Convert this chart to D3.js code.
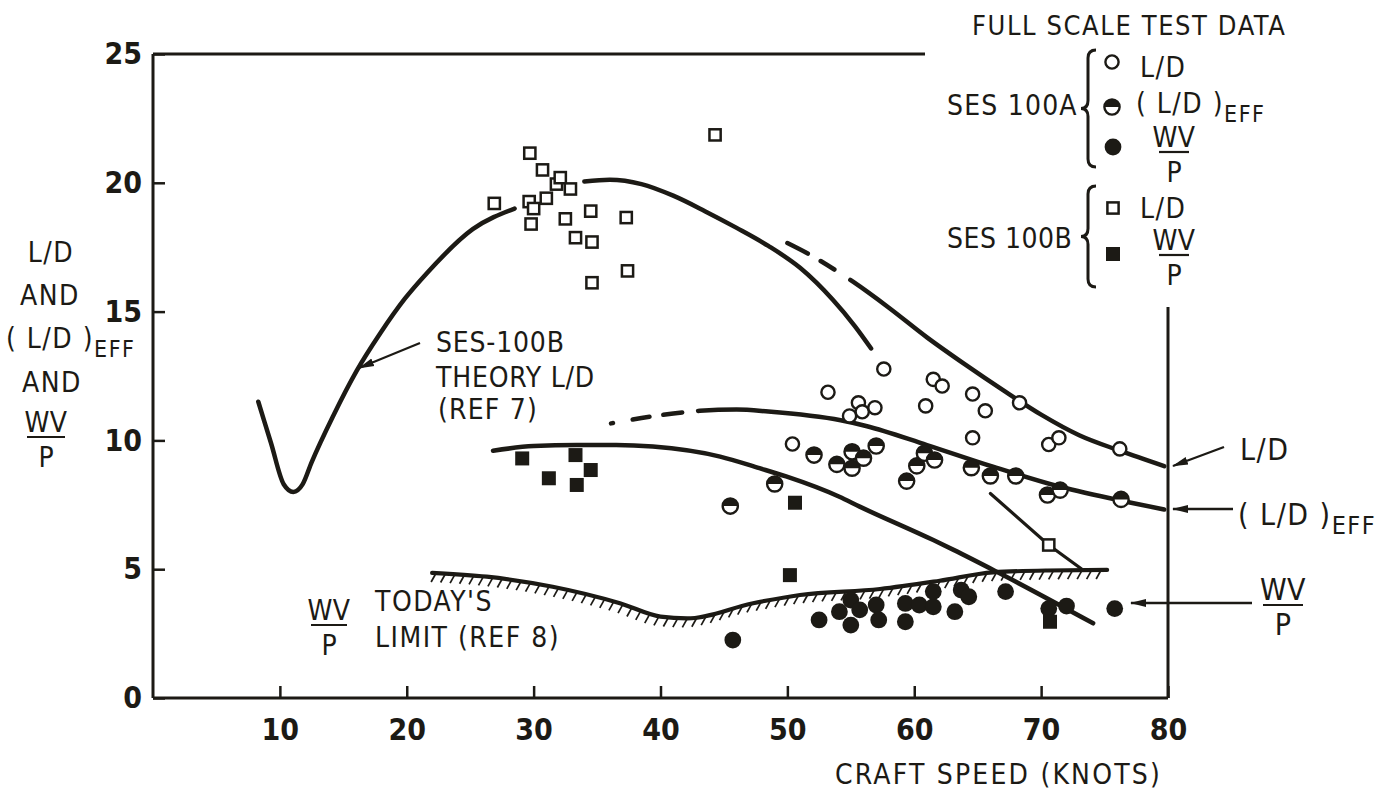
<!DOCTYPE html>
<html>
<head>
<meta charset="utf-8">
<script src="https://cdn.jsdelivr.net/npm/d3@7"></script>
<style>
  html, body { margin: 0; padding: 0; background: #ffffff; }
  svg { display: block; }
</style>
</head>
<body>
<svg id="chart" width="1393" height="795"></svg>
<script>
// ---------------- DATA ----------------
const xTicks = [10, 20, 30, 40, 50, 60, 70, 80];
const yTicks = [0, 5, 10, 15, 20, 25];

// SES 100A full scale test data
const sesA_LD = [[50.4,9.86],[53.2,11.87],[54.9,10.95],[55.6,11.46],[55.9,11.11],[56.9,11.27],[57.6,12.77],
  [60.9,11.34],[61.5,12.37],[62.2,12.11],[64.6,11.8],[64.6,10.1],[65.6,11.15],[68.3,11.46],[70.6,9.84],[71.4,10.1],[76.2,9.67]];
const sesA_LDeff = [[45.5,7.45],[49.0,8.31],[52.1,9.43],[53.9,9.07],[55.1,9.56],[55.1,8.92],[56.0,9.31],[57.0,9.78],
  [59.4,8.42],[60.2,9.01],[60.8,9.5],[61.6,9.24],[64.5,8.94],[66.0,8.62],[68.0,8.62],[70.5,7.88],[71.5,8.07],[76.3,7.71]];
const sesA_WVP = [[45.7,2.25],[52.5,3.03],[54.1,3.35],[55.0,3.80],[55.0,2.83],[55.7,3.42],[57.0,3.61],[57.2,3.03],
  [59.3,3.67],[59.3,2.96],[60.4,3.61],[61.5,3.54],[61.5,4.13],[63.2,3.35],[63.7,4.19],[64.3,3.93],[67.2,4.13],
  [70.6,3.47],[72.0,3.57],[75.8,3.47]];

// SES 100B full scale test data
const sesB_LD = [[26.9,19.2],[29.65,19.27],[29.7,21.15],[29.8,18.4],[30.0,19.0],[30.7,20.5],[31.0,19.4],[31.8,19.95],
  [32.1,20.2],[32.5,18.6],[32.9,19.76],[33.3,17.87],[34.5,18.9],[34.6,17.7],[34.6,16.12],[37.3,18.65],[37.4,16.58],
  [44.3,21.86],[70.6,5.94]];
const sesB_WVP = [[29.1,9.30],[31.2,8.53],[33.3,9.43],[33.4,8.27],[34.5,8.85],[50.6,7.58],[50.2,4.77],[70.7,2.96]];

// Curves
const theoryLD_low = [[8.3,11.5],[9.3,9.9],[10.3,8.3],[11.06,8.0],[11.8,8.3],[12.5,9.15],[14.2,10.95],[16.05,12.7],
  [17.9,14.15],[19.85,15.5],[21.6,16.5],[25.2,18.2],[28.5,19.0]];
const theoryLD_high = [[34.0,20.05],[36.0,20.12],[38.5,19.95],[41.0,19.5],[43.5,18.9],[46.0,18.25],[48.5,17.55],
  [51.0,16.7],[53.6,15.45],[55.3,14.45],[56.6,13.57]];
const ldFit = [[50.0,17.66],[51.8,17.2],[54.0,16.54],[55.2,16.15],[58.0,15.15],[61.0,14.0],[64.0,12.95],[67.0,11.95],
  [70.0,11.0],[73.0,10.2],[76.2,9.6],[79.7,9.0]];
const ldEffFit = [[36.1,10.66],[39.2,10.92],[43.1,11.15],[46.0,11.2],[48.5,11.12],[54.2,10.78],[56.2,10.56],[61.0,9.82],
  [66.2,8.98],[71.5,8.2],[76.7,7.62],[79.7,7.32]];
const wvpTheory = [[26.8,9.6],[30.0,9.78],[33.4,9.82],[36.5,9.82],[39.4,9.76],[44.7,9.37],[47.8,8.92],[49.9,8.6],
  [54.1,7.81],[55.7,7.43],[61.5,6.13],[63.1,5.75],[66.5,4.90],[74.1,2.90]];
const sesBLine = [[66.0,7.94],[70.6,5.94],[73.3,4.97]];
const todaysLimit = [[22.0,4.86],[26.3,4.71],[31.5,4.32],[36.8,3.68],[40.0,3.16],[42.1,3.09],[47.3,3.68],
  [51.0,4.0],[57.3,4.23],[62.0,4.55],[66.2,4.88],[70.5,4.95],[75.2,4.97]];

// ---------------- DRAW ----------------
const INK = "#1c1a15";
const FONT = "'Liberation Sans Narrow','DejaVu Sans Condensed','Liberation Sans',sans-serif";
const svg = d3.select("#chart");
svg.append("rect").attr("width",1393).attr("height",795).attr("fill","#ffffff");

const x = d3.scaleLinear().domain([0, 80]).range([153, 1168]);
const y = d3.scaleLinear().domain([0, 25]).range([698, 54]);

const defs = svg.append("defs");
defs.append("marker").attr("id","arrow").attr("viewBox","0 0 16 10").attr("refX",15).attr("refY",5)
  .attr("markerWidth",16).attr("markerHeight",10).attr("markerUnits","userSpaceOnUse").attr("orient","auto")
  .append("path").attr("d","M0,1 L16,5 L0,9 Z").attr("fill",INK);

// Frame
const frame = svg.append("g").attr("stroke",INK).attr("stroke-width",3).attr("fill","none");
frame.append("line").attr("x1",x(0)).attr("x2",x(0)).attr("y1",y(25)).attr("y2",y(0));
frame.append("line").attr("x1",x(0)).attr("x2",x(80)).attr("y1",y(0)).attr("y2",y(0));
frame.append("line").attr("x1",x(0)).attr("x2",925).attr("y1",y(25)).attr("y2",y(25));
frame.append("line").attr("x1",x(80)).attr("x2",x(80)).attr("y1",307).attr("y2",y(0));

// Axes
const xAxis = svg.append("g").attr("transform",`translate(0,${y(0)})`)
  .call(d3.axisBottom(x).tickValues(xTicks).tickSizeInner(-12).tickSizeOuter(0).tickPadding(21).tickFormat(d3.format("d")));
const yAxis = svg.append("g").attr("transform",`translate(${x(0)},0)`)
  .call(d3.axisLeft(y).tickValues(yTicks).tickSizeInner(-12).tickSizeOuter(0).tickPadding(11).tickFormat(d3.format("d")));
[xAxis, yAxis].forEach(a => {
  a.select(".domain").remove();
  a.selectAll(".tick line").attr("stroke",INK).attr("stroke-width",2.5);
  a.selectAll(".tick text").attr("fill",INK).style("font-family",FONT).style("font-size","30px").style("font-weight","bold");
});

// Curves
const line = d3.line().x(d => x(d[0])).y(d => y(d[1])).curve(d3.curveMonotoneX);
const curves = svg.append("g").attr("fill","none").attr("stroke",INK).attr("stroke-linecap","round");
curves.append("path").attr("d", line(theoryLD_low)).attr("stroke-width",4.5);
curves.append("path").attr("d", line(theoryLD_high)).attr("stroke-width",4.5);
curves.append("path").attr("d", line(ldFit)).attr("stroke-width",4.5).attr("stroke-dasharray","23 15 16 19 4000");
curves.append("path").attr("d", line(ldEffFit)).attr("stroke-width",4.5).attr("stroke-dasharray","2 20 17 14 19 16 4000");
curves.append("path").attr("d", line(wvpTheory)).attr("stroke-width",4.5);
curves.append("path").attr("d", d3.line().x(d=>x(d[0])).y(d=>y(d[1]))(sesBLine)).attr("stroke-width",3.2);
const limitPath = curves.append("path").attr("d", line(todaysLimit)).attr("stroke-width",4.2);

// Hatching under today's limit
const lp = limitPath.node();
const L = lp.getTotalLength();
const hatch = svg.append("g").attr("stroke",INK).attr("stroke-width",1.7);
for (let s = 4; s < L - 2; s += 9.5) {
  const p = lp.getPointAtLength(s);
  hatch.append("line").attr("x1",p.x).attr("y1",p.y).attr("x2",p.x-5).attr("y2",p.y+9);
}

// Markers
const halfArc = r => d3.arc().innerRadius(0).outerRadius(r).startAngle(-Math.PI/2).endAngle(Math.PI/2)();
function openCircle(g, cx, cy) {
  g.append("circle").attr("cx",cx).attr("cy",cy).attr("r",6.6).attr("fill","#fff").attr("stroke",INK).attr("stroke-width",2.4);
}
function halfCircle(g, cx, cy) {
  g.append("circle").attr("cx",cx).attr("cy",cy).attr("r",7.6).attr("fill","#fff").attr("stroke",INK).attr("stroke-width",2.4);
  g.append("path").attr("d",halfArc(7.6)).attr("transform",`translate(${cx},${cy})`).attr("fill",INK);
}
function fullCircle(g, cx, cy) {
  g.append("circle").attr("cx",cx).attr("cy",cy).attr("r",8.4).attr("fill",INK);
}
function openSquare(g, cx, cy) {
  g.append("rect").attr("x",cx-5.6).attr("y",cy-5.6).attr("width",11.2).attr("height",11.2)
    .attr("fill","#fff").attr("stroke",INK).attr("stroke-width",2.5);
}
function fullSquare(g, cx, cy) {
  g.append("rect").attr("x",cx-7).attr("y",cy-7).attr("width",14).attr("height",14).attr("fill",INK);
}
const pts = svg.append("g");
sesA_WVP.forEach(d => fullCircle(pts, x(d[0]), y(d[1])));
sesB_WVP.forEach(d => fullSquare(pts, x(d[0]), y(d[1])));
sesA_LDeff.forEach(d => halfCircle(pts, x(d[0]), y(d[1])));
sesA_LD.forEach(d => openCircle(pts, x(d[0]), y(d[1])));
sesB_LD.forEach(d => openSquare(pts, x(d[0]), y(d[1])));

// ---------------- TEXT ----------------
function txt(g, s, tx, ty, size, anchor, ls) {
  return g.append("text").attr("x",tx).attr("y",ty).attr("fill",INK)
    .style("font-family",FONT).style("font-size",size+"px").style("letter-spacing",(ls==null?1.5:ls)+"px")
    .attr("text-anchor",anchor||"start").text(s);
}
function fraction(g, cx, yTop, size, barW) {
  txt(g, "WV", cx, yTop, size, "middle", 0.5);
  g.append("line").attr("x1",cx-barW/2).attr("x2",cx+barW/2).attr("y1",yTop+5).attr("y2",yTop+5)
    .attr("stroke",INK).attr("stroke-width",2.2);
  txt(g, "P", cx, yTop+35, size, "middle", 0);
}
function ldEff(g, tx, ty, size, subSize) {
  const t = txt(g, "( L/D )", tx, ty, size, "start", 1.5);
  t.append("tspan").attr("dy",9).style("font-size",subSize+"px").text("EFF");
}
const T = svg.append("g");

// Y axis title
txt(T, "L/D", 51, 262, 28, "middle");
txt(T, "AND", 50, 305, 28, "middle");
ldEff(T, 6, 348, 28, 23);
txt(T, "AND", 52, 392, 28, "middle");
fraction(T, 46, 432, 28, 38);

// X axis title
txt(T, "CRAFT SPEED (KNOTS)", 835, 784, 28, "start", 2.2);

// Theory annotation
txt(T, "SES-100B", 436, 352, 28, "start", 0.8);
txt(T, "THEORY L/D", 436, 387, 28, "start", 0.8);
txt(T, "(REF 7)", 438, 419, 28, "start", 1.2);
T.append("line").attr("x1",420).attr("y1",343).attr("x2",359).attr("y2",368)
  .attr("stroke",INK).attr("stroke-width",2.2).attr("marker-end","url(#arrow)");

// Today's limit annotation
fraction(T, 329, 620, 28, 36);
txt(T, "TODAY'S", 375, 611, 28, "start", 1.5);
txt(T, "LIMIT (REF 8)", 375, 647, 28, "start", 1.5);

// Right-side labels
txt(T, "L/D", 1240, 460, 30, "start", 1.5);
T.append("line").attr("x1",1224).attr("y1",447).attr("x2",1173).attr("y2",466)
  .attr("stroke",INK).attr("stroke-width",2.4).attr("marker-end","url(#arrow)");
ldEff(T, 1238, 525, 30, 25);
T.append("line").attr("x1",1233).attr("y1",509).attr("x2",1173).attr("y2",509)
  .attr("stroke",INK).attr("stroke-width",2.4).attr("marker-end","url(#arrow)");
fraction(T, 1283, 600, 30, 40);
T.append("line").attr("x1",1252).attr("y1",603).attr("x2",1131).attr("y2",603)
  .attr("stroke",INK).attr("stroke-width",2.4).attr("marker-end","url(#arrow)");

// ---------------- LEGEND ----------------
const Lg = svg.append("g");
txt(Lg, "FULL SCALE TEST DATA", 972, 35, 27, "start", 1.6);
function brace(g, xl, top, bottom) {
  const mid = (top + bottom) / 2, xm = xl + 7, xr = xl + 15, r = 8;
  g.append("path").attr("d",
    `M${xr},${top} Q${xm},${top} ${xm},${top+r} L${xm},${mid-r} Q${xm},${mid} ${xl},${mid} ` +
    `Q${xm},${mid} ${xm},${mid+r} L${xm},${bottom-r} Q${xm},${bottom} ${xr},${bottom}`)
    .attr("fill","none").attr("stroke",INK).attr("stroke-width",3);
}
txt(Lg, "SES 100A", 947, 115, 28, "start", 1.2);
brace(Lg, 1081, 50, 167);
openCircle(Lg, 1112, 62);
txt(Lg, "L/D", 1140, 77, 28, "start", 1.5);
halfCircle(Lg, 1112, 107);
ldEff(Lg, 1136, 113, 28, 23);
fullCircle(Lg, 1113, 147);
fraction(Lg, 1174, 147, 28, 30);

txt(Lg, "SES 100B", 947, 248, 28, "start", 0.5);
brace(Lg, 1081, 186, 287);
openSquare(Lg, 1113, 208);
txt(Lg, "L/D", 1140, 218, 28, "start", 1.5);
fullSquare(Lg, 1113, 254);
fraction(Lg, 1174, 250, 28, 30);
</script>
</body>
</html>
